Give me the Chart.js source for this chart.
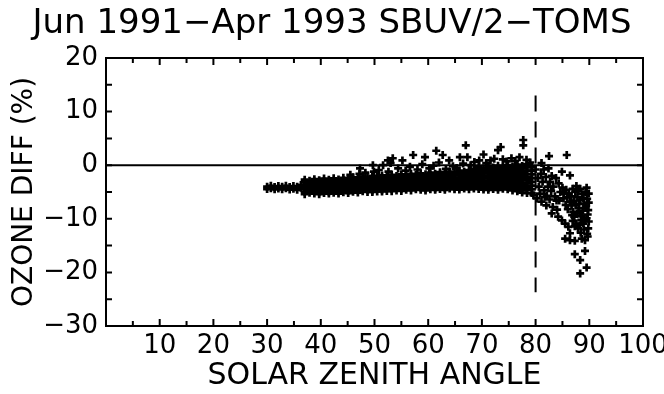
<!DOCTYPE html>
<html>
<head>
<meta charset="utf-8">
<script src="https://cdn.jsdelivr.net/npm/chart.js@4.4.1/dist/chart.umd.min.js"></script>
<style>
  html, body { margin: 0; padding: 0; background: #fff; }
</style>
</head>
<body>
<canvas id="myChart" width="664" height="394"></canvas>
<script>
// solar zenith angle (deg) vs ozone difference (%), SBUV/2 minus TOMS
// low angles: thin band of single pairs [sza, diff]
let thinBand = [
    [30.0, -4.0], [30.0, -4.45], [30.7, -3.85], [30.7, -4.3], [31.4, -4.05], [31.4, -4.5],
    [32.1, -3.9], [32.1, -4.35], [32.8, -4.0], [32.8, -4.5], [33.5, -3.85], [33.5, -4.3],
    [34.2, -4.05], [34.2, -4.55], [34.9, -3.9], [34.9, -4.4], [35.6, -4.0], [35.6, -4.6],
    [36.3, -3.7], [36.3, -4.2],
];

// main band, one column per entry: [sza, diff, diff, ...]
let bandWest = [
    [37.0, -2.7, -3.15, -3.6, -4.05, -4.5, -4.95, -5.4],
    [37.9, -2.9, -3.35, -3.8, -4.25, -4.7, -5.15],
    [38.8, -2.6, -3.05, -3.5, -3.95, -4.4, -4.85, -5.3],
    [39.7, -2.8, -3.25, -3.7, -4.15, -4.6, -5.05, -5.4],
    [40.6, -2.5, -2.95, -3.4, -3.85, -4.3, -4.75, -5.2],
    [41.5, -2.7, -3.15, -3.6, -4.05, -4.5, -4.95, -5.3],
    [42.4, -2.45, -2.9, -3.35, -3.8, -4.25, -4.7, -5.15],
    [43.3, -2.65, -3.1, -3.55, -4.0, -4.45, -4.9, -5.3],
    [44.2, -2.35, -2.8, -3.25, -3.7, -4.15, -4.6, -5.05],
    [45.1, -2.55, -3.0, -3.45, -3.9, -4.35, -4.8, -5.2],
    [46.0, -2.25, -2.7, -3.15, -3.6, -4.05, -4.5, -4.95],
    [46.9, -2.45, -2.9, -3.35, -3.8, -4.25, -4.7, -5.1],
    [47.8, -2.15, -2.6, -3.05, -3.5, -3.95, -4.4, -4.85],
    [48.7, -2.35, -2.8, -3.25, -3.7, -4.15, -4.6, -5.0],
    [49.6, -2.0, -2.45, -2.9, -3.35, -3.8, -4.25, -4.7, -5.0],
    [50.5, -2.2, -2.65, -3.1, -3.55, -4.0, -4.45, -4.9],
    [51.4, -1.9, -2.35, -2.8, -3.25, -3.7, -4.15, -4.6, -4.9],
    [52.3, -2.1, -2.55, -3.0, -3.45, -3.9, -4.35, -4.8],
    [53.2, -1.8, -2.25, -2.7, -3.15, -3.6, -4.05, -4.5, -4.85],
    [54.1, -2.0, -2.45, -2.9, -3.35, -3.8, -4.25, -4.7],
    [55.0, -1.7, -2.15, -2.6, -3.05, -3.5, -3.95, -4.4, -4.8],
    [55.9, -1.9, -2.35, -2.8, -3.25, -3.7, -4.15, -4.6],
    [56.8, -1.6, -2.05, -2.5, -2.95, -3.4, -3.85, -4.3, -4.7],
    [57.7, -1.8, -2.25, -2.7, -3.15, -3.6, -4.05, -4.5],
];

let bandEast = [
    [58.6, -1.5, -1.95, -2.4, -2.85, -3.3, -3.75, -4.2, -4.6],
    [59.5, -1.7, -2.15, -2.6, -3.05, -3.5, -3.95, -4.4, -4.7],
    [60.4, -1.4, -1.85, -2.3, -2.75, -3.2, -3.65, -4.1, -4.5],
    [61.3, -1.6, -2.05, -2.5, -2.95, -3.4, -3.85, -4.3, -4.6],
    [62.2, -1.3, -1.75, -2.2, -2.65, -3.1, -3.55, -4.0, -4.45],
    [63.1, -1.5, -1.95, -2.4, -2.85, -3.3, -3.75, -4.2, -4.6],
    [64.0, -1.2, -1.65, -2.1, -2.55, -3.0, -3.45, -3.9, -4.35],
    [64.9, -1.4, -1.85, -2.3, -2.75, -3.2, -3.65, -4.1, -4.5],
    [65.8, -1.0, -1.45, -1.9, -2.35, -2.8, -3.25, -3.7, -4.15, -4.55],
    [66.7, -1.2, -1.65, -2.1, -2.55, -3.0, -3.45, -3.9, -4.35],
    [67.6, -0.9, -1.35, -1.8, -2.25, -2.7, -3.15, -3.6, -4.05, -4.5],
    [68.5, -0.75, -1.2, -1.65, -2.1, -2.55, -3.0, -3.45, -3.9, -4.35],
    [69.4, -0.4, -0.85, -1.3, -1.75, -2.2, -2.65, -3.1, -3.55, -4.0, -4.45],
    [70.3, -0.6, -1.05, -1.5, -1.95, -2.4, -2.85, -3.3, -3.75, -4.2, -4.55],
    [71.2, -0.2, -0.65, -1.1, -1.55, -2.0, -2.45, -2.9, -3.35, -3.8, -4.25, -4.6],
    [72.1, -0.45, -0.9, -1.35, -1.8, -2.25, -2.7, -3.15, -3.6, -4.05, -4.45],
    [73.0, -0.1, -0.55, -1.0, -1.45, -1.9, -2.35, -2.8, -3.25, -3.7, -4.15, -4.6],
    [73.9, -0.35, -0.8, -1.25, -1.7, -2.15, -2.6, -3.05, -3.5, -3.95, -4.4],
    [74.8, 0.0, -0.45, -0.9, -1.35, -1.8, -2.25, -2.7, -3.15, -3.6, -4.05, -4.5],
    [75.7, -0.25, -0.7, -1.15, -1.6, -2.05, -2.5, -2.95, -3.4, -3.85, -4.3, -4.7],
    [76.6, 0.1, -0.35, -0.8, -1.25, -1.7, -2.15, -2.6, -3.05, -3.5, -3.95, -4.4, -4.85],
    [77.5, -0.15, -0.6, -1.05, -1.5, -1.95, -2.4, -2.85, -3.3, -3.75, -4.2, -4.65, -5.1],
    [78.4, 0.2, -0.4, -1.0, -1.6, -2.2, -2.8, -3.4, -4.0, -4.6, -5.2],
    [79.3, -0.3, -1.0, -1.7, -2.4, -3.1, -3.8, -4.5, -5.2],
];

// loose points above the band
let upperScatter = [
    [45.5, -1.8], [47.2, -1.6], [47.3, -0.6], [48.3, -1.4], [49.7, 0.0], [49.9, -1.2],
    [50.8, -0.9], [51.6, 0.0], [52.5, 0.9], [52.6, -1.2], [53.4, 1.3], [53.0, 0.4],
    [54.4, -0.6], [55.2, 0.9], [55.8, -1.0], [56.6, -0.3], [57.2, 1.9], [58.0, -0.8],
    [58.9, 0.2], [59.4, 1.5], [60.2, -0.6], [61.0, -0.1], [61.5, 2.7], [62.0, 0.5],
    [62.7, 1.9], [63.3, -0.7], [63.9, 0.9], [64.6, -0.2], [65.3, -0.5], [65.9, 1.5],
    [66.5, 0.3], [67.0, 3.7], [67.3, 1.5], [67.9, 0.0], [68.6, 0.6], [69.5, 0.9],
    [70.3, 2.0], [70.8, 0.4], [71.6, 0.9], [72.3, 1.2], [73.0, 2.8], [73.5, 3.4],
    [73.9, 1.1], [74.6, 0.7], [75.5, 1.3], [76.2, 0.8], [77.0, 1.5], [77.7, 4.7],
    [77.7, 3.7], [78.3, 1.0], [79.0, 0.5],
];

// high angles: points fall off past 80 deg
let tailPoints = [
    [79.6, -5.6], [80.2, -6.2], [80.0, -0.8], [80.4, -2.4], [80.6, -4.0], [80.8, -5.3],
    [81.1, 0.4], [81.0, -1.6], [81.3, -3.1], [81.1, -6.8], [81.6, -4.7], [81.9, -2.2],
    [82.0, -7.5], [82.1, -5.7], [82.4, -0.6], [82.5, 1.7], [82.7, -3.1], [82.9, -4.8],
    [83.0, -9.0], [83.2, -7.8], [83.3, -4.0], [83.6, -5.8], [83.8, -2.4], [84.0, -8.3],
    [84.2, -9.6], [84.3, -3.4], [84.6, -5.0], [84.9, -1.2], [84.9, -10.3], [85.2, -6.2],
    [85.0, -4.2], [85.5, -10.9], [85.5, -13.7], [85.8, 1.9], [85.7, -4.6], [85.6, -7.4],
    [86.1, -11.5], [86.2, -5.3], [86.4, -1.9], [86.4, -6.8], [86.4, -12.7], [86.0, -8.2],
    [86.4, -14.0], [86.7, -7.5], [86.8, -9.3], [86.9, -4.4], [87.0, -8.7], [87.2, -9.6],
    [87.3, -14.1], [87.3, -16.6], [87.4, -5.0], [87.5, -7.4], [87.6, -10.9], [87.6, -3.9],
    [87.8, -6.0], [87.9, -11.8], [88.0, -8.0], [88.3, -4.4], [88.3, -6.5], [88.3, -9.0],
    [88.3, -17.7], [88.3, -20.2], [88.4, -12.6], [88.5, -10.2], [88.6, -13.7], [88.7, -5.4],
    [88.8, -8.5], [88.9, -10.9], [89.0, -7.2], [89.0, -12.0], [89.2, -14.0], [89.2, -16.0],
    [89.3, -8.0], [89.5, -4.2], [89.5, -9.9], [89.5, -19.1], [89.6, -6.3], [89.6, -12.8],
    [89.7, -13.3], [89.8, -8.4], [89.8, -11.8], [89.9, -5.3], [89.9, -10.5],
    [86.6, -5.8], [87.1, -6.6], [87.9, -4.8], [88.1, -7.2], [88.9, -6.1], [89.3, -5.0],
    [89.4, -7.6], [88.6, -9.5], [87.7, -9.0], [87.3, -11.4], [86.9, -10.4], [89.1, -10.3],
    [89.7, -9.2], [88.2, -11.2], [89.9, -7.0], [85.3, -5.3], [85.9, -6.0], [84.4, -6.6],
    [83.9, -6.6], [82.6, -6.4], [81.7, -5.9], [82.3, -4.0], [83.0, -2.0], [81.5, -0.8],
];

let zeroLine = [[0, 0], [100, 0]];
let cutoffLine = [[80, 13.0], [80, -23.7]];

let xTickSteps = [5, 10, 15, 20, 25, 30, 35, 40, 45, 50, 55, 60, 65, 70, 75, 80, 85, 90, 95];
let yTickSteps = [-25, -20, -15, -10, -5, 0, 5, 10, 15];

function pairs(list) {
    return list.map(p => ({ x: p[0], y: p[1] }));
}

function columns(list) {
    return list.flatMap(([x, ...ys]) => ys.map(y => ({ x: x, y: y })));
}

let points = [].concat(pairs(thinBand), columns(bandWest), columns(bandEast),
    pairs(upperScatter), pairs(tailPoints));

function minus(v) {
    return v < 0 ? '\u2212' + Math.abs(v) : String(v);
}

// box around the plot with inward ticks on all four sides
const frameTicks = {
    id: 'frameTicks',
    afterDatasetsDraw(chart) {
        const { ctx, chartArea: a, scales: { x, y } } = chart;
        ctx.save();
        ctx.strokeStyle = '#000';
        ctx.lineWidth = 2;
        ctx.strokeRect(a.left, a.top, a.right - a.left, a.bottom - a.top);
        ctx.beginPath();
        xTickSteps.forEach(v => {
            const px = x.getPixelForValue(v);
            const len = v % 10 === 0 ? 7 : 5;
            ctx.moveTo(px, a.bottom); ctx.lineTo(px, a.bottom - len);
            ctx.moveTo(px, a.top); ctx.lineTo(px, a.top + len);
        });
        yTickSteps.forEach(v => {
            const py = y.getPixelForValue(v);
            ctx.moveTo(a.left, py); ctx.lineTo(a.left + 6, py);
            ctx.moveTo(a.right, py); ctx.lineTo(a.right - 6, py);
        });
        ctx.stroke();
        ctx.restore();
    }
};

Chart.defaults.font.family = 'DejaVu Sans';
Chart.defaults.color = '#000';

const myChart = new Chart(document.getElementById('myChart').getContext('2d'), {
    type: 'scatter',
    data: {
        datasets: [{
            data: points,
            pointStyle: 'cross',
            pointRadius: 4,
            pointHoverRadius: 4,
            borderColor: '#000',
            borderWidth: 2.7,
            order: 1
        }, {
            type: 'line',
            data: pairs(zeroLine),
            borderColor: '#000',
            borderWidth: 2,
            pointRadius: 0,
            order: 2
        }, {
            type: 'line',
            data: pairs(cutoffLine),
            borderColor: '#000',
            borderWidth: 2,
            borderDash: [16, 10],
            pointRadius: 0,
            order: 2
        }]
    },
    options: {
        responsive: false,
        animation: false,
        layout: { padding: 0 },
        plugins: {
            legend: { display: false },
            tooltip: { enabled: false },
            title: {
                display: true,
                text: 'Jun 1991\u2212Apr 1993 SBUV/2\u2212TOMS',
                font: { size: 34, weight: 'normal' },
                color: '#000',
                padding: { top: 4, bottom: 13.2 }
            }
        },
        scales: {
            x: {
                type: 'linear',
                min: 0,
                max: 100,
                grid: { display: false, drawTicks: false },
                border: { display: false },
                ticks: {
                    stepSize: 10,
                    padding: 5,
                    autoSkip: false,
                    maxRotation: 0,
                    minRotation: 0,
                    font: { size: 26 },
                    callback: v => v === 0 ? '' : v
                },
                title: {
                    display: true,
                    text: 'SOLAR ZENITH ANGLE',
                    font: { size: 30 },
                    padding: { top: 0, bottom: 0 }
                },
                afterFit(scale) {
                    scale.height = 68;
                    scale.paddingLeft = 0;
                    scale.paddingRight = 21;
                }
            },
            y: {
                type: 'linear',
                min: -30,
                max: 20,
                grid: { display: false, drawTicks: false },
                border: { display: false },
                ticks: {
                    stepSize: 10,
                    padding: 8,
                    font: { size: 26 },
                    callback: v => minus(v)
                },
                title: {
                    display: true,
                    text: 'OZONE DIFF (%)',
                    font: { size: 28 },
                    padding: { top: 8, bottom: 0 }
                },
                afterFit(scale) {
                    scale.width = 106;
                    scale.paddingTop = 0;
                    scale.paddingBottom = 0;
                }
            }
        }
    },
    plugins: [frameTicks]
});
</script>
</body>
</html>
